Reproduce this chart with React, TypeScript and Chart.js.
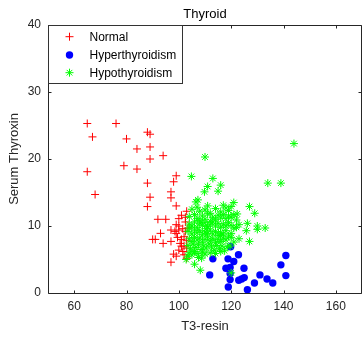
import React, { useEffect, useRef } from "react";
import { Chart, registerables } from "chart.js";

Chart.register(...registerables);

const chartTitle = "Thyroid";
const xLabel = "T3-resin";
const yLabel = "Serum Thyroxin";
const xTicks = [60, 80, 100, 120, 140, 160];
const yTicks = [0, 10, 20, 30, 40];
const seriesNames = ["Normal", "Hyperthyroidism", "Hypothyroidism"];

const normalPoints: number[][] = [
  [65, 25.3], [76, 25.3], [67, 23.3], [80, 23.0], [88, 24.0], [89, 23.7], [84, 21.5], [89, 21.8],
  [94, 20.5], [89, 20.0], [65, 18.1], [79, 19.0], [84, 18.5], [68, 14.7], [99, 17.5], [98, 16.6],
  [88, 16.4], [97, 15.1], [97, 14.2], [89, 14.3], [99, 13.0], [88, 12.9], [103, 12.2], [92, 11.0],
  [95, 11.0], [100, 11.1], [99, 10.2], [97, 9.4], [100, 9.4], [93, 8.9], [90, 8.0], [91, 8.0],
  [94, 7.4], [97, 7.7], [99, 8.9], [101, 8.0], [101, 7.0], [100, 6.4], [102.5, 9.2], [102, 7.0],
  [102, 5.7], [98, 5.8], [97, 4.6], [99, 5.5], [103, 6.7], [103, 5.2], [102.5, 10.6], [101, 11.6],
  [103.5, 9.7], [101.5, 9.6], [102, 8.4], [100.5, 7.4], [101.5, 6.2], [103, 7.8], [100, 10.0],
  [99.5, 8.3], [98.5, 9.2], [102.5, 11.3],
];

const hyperPoints: number[][] = [
  [113, 5.1], [111.8, 2.7], [118.8, 5.1], [122.8, 5.7], [121, 4.7], [118, 3.7], [119.6, 3.8],
  [119.6, 2.9], [124.9, 3.7], [119.6, 2.0], [118.9, 0.9], [122.9, 1.9], [125, 2.3], [126.2, 0.5],
  [128.9, 1.5], [131, 2.7], [133.7, 2.1], [135.9, 1.5], [139, 4.2], [140.9, 5.6], [140.9, 2.6],
  [119.8, 6.9], [124, 2.1],
];

const hypoPoints: number[][] = [
  [144, 22.3], [110, 20.3], [104.8, 17.4], [113, 17.1], [111, 15.9], [116, 16.1], [109.8, 15.1],
  [115, 15.2], [134, 16.4], [139, 16.4], [106.5, 13.6], [107.3, 13.9], [127, 12.9], [129, 11.9],
  [121, 13.5], [122.3, 11.8], [126.2, 10.4], [125.8, 9.3], [130, 10.0], [130, 9.5], [133, 9.7],
  [127, 7.7], [123, 8.1], [122, 9.8], [102.8, 5.0], [106, 4.3], [108.2, 3.4], [108.7, 5.2],
  [120, 3.0], [119.6, 7.0], [116, 8.6],
  [105, 12.5], [107, 12.8], [108, 12.2], [110, 12.4], [112, 11.9], [114, 12.6], [116, 12.1],
  [118, 12.7], [119, 12.3], [120, 12.9], [117, 13.1], [111, 13.0],
  [104, 11.4], [106, 11.7], [107, 11.1], [109, 11.5], [110, 11.0], [111, 11.8], [113, 11.3],
  [114, 11.0], [115, 11.6], [116, 11.2], [117, 11.7], [118, 11.1], [119, 11.5], [120, 11.3],
  [121, 11.7], [122, 10.9], [108, 10.8], [112, 10.7],
  [104, 10.3], [105, 10.0], [106, 10.6], [107, 9.8], [108, 10.4], [109, 10.1], [110, 10.5],
  [111, 9.9], [112, 10.2], [113, 10.6], [114, 10.0], [115, 10.4], [116, 9.8], [117, 10.3],
  [118, 10.0], [119, 10.5], [120, 10.1], [121, 9.7], [123, 10.2], [110.5, 9.6],
  [103.5, 9.2], [105, 8.8], [106, 9.4], [107, 9.0], [108, 9.3], [109, 8.7], [110, 9.1],
  [111, 8.9], [112, 9.4], [113, 8.8], [114, 9.2], [115, 8.6], [116, 9.0], [117, 8.8],
  [118, 9.3], [119, 8.5], [120, 8.9], [104, 9.7],
  [104, 8.1], [105, 7.7], [106, 8.3], [107, 7.9], [108, 8.2], [109, 7.6], [110, 8.0],
  [111, 8.4], [112, 7.8], [113, 8.1], [114, 7.5], [115, 8.0], [116, 7.7], [117, 8.2],
  [118, 7.9], [120, 8.3], [121, 7.6],
  [103.5, 7.1], [104.5, 6.6], [105.5, 7.3], [106.5, 6.8], [107.5, 7.2], [108.5, 6.5],
  [109.5, 7.0], [110.5, 6.7], [111.5, 7.3], [112.5, 6.9], [113.5, 6.4], [114.5, 7.1],
  [115.5, 6.6], [116.5, 7.0], [117.5, 6.3], [118.5, 6.9],
  [104, 6.0], [105, 5.7], [106, 6.2], [107, 5.9], [109, 6.1], [110, 5.8], [112, 6.0],
  [114, 5.9], [116, 6.2], [103.5, 5.5], [107.5, 5.3],
];

const RED = "#ff0000";
const BLUE = "#0000ff";
const GREEN = "#00ff00";
const AXIS = "#262626";
const FONT = "'Liberation Sans', Arial, Helvetica, sans-serif";

function toXY(list: number[][]) {
  return list.map(([x, y]) => ({ x, y }));
}

function drawMarker(ctx: CanvasRenderingContext2D, kind: string, x: number, y: number) {
  ctx.save();
  if (kind === "plus") {
    ctx.strokeStyle = RED;
    ctx.lineWidth = 1;
    ctx.beginPath();
    ctx.moveTo(x - 4, y); ctx.lineTo(x + 4, y);
    ctx.moveTo(x, y - 4); ctx.lineTo(x, y + 4);
    ctx.stroke();
  } else if (kind === "circle") {
    ctx.fillStyle = BLUE;
    ctx.beginPath();
    ctx.arc(x, y, 3.7, 0, Math.PI * 2);
    ctx.fill();
  } else {
    ctx.strokeStyle = GREEN;
    ctx.lineWidth = 1;
    ctx.beginPath();
    ctx.moveTo(x - 4, y); ctx.lineTo(x + 4, y);
    ctx.moveTo(x, y - 4); ctx.lineTo(x, y + 4);
    ctx.moveTo(x - 2.8, y - 2.8); ctx.lineTo(x + 2.8, y + 2.8);
    ctx.moveTo(x - 2.8, y + 2.8); ctx.lineTo(x + 2.8, y - 2.8);
    ctx.stroke();
  }
  ctx.restore();
}

const framePlugin = {
  id: "matlabFrame",
  afterDatasetsDraw(chart: any) {
    const { ctx, chartArea: a, scales } = chart;
    const L = Math.floor(a.left) + 0.5;
    const R = Math.ceil(a.right) - 0.5;
    const T = Math.floor(a.top) + 0.5;
    const B = Math.floor(a.bottom) + 0.5;
    ctx.save();
    ctx.strokeStyle = AXIS;
    ctx.lineWidth = 1;
    ctx.beginPath();
    ctx.moveTo(L, T); ctx.lineTo(R, T); ctx.lineTo(R, B); ctx.lineTo(L, B); ctx.closePath();
    const tl = 3;
    xTicks.forEach((v) => {
      const px = Math.round(scales.x.getPixelForValue(v)) + 0.5;
      ctx.moveTo(px, B); ctx.lineTo(px, B - tl);
      ctx.moveTo(px, T); ctx.lineTo(px, T + tl);
    });
    yTicks.forEach((v) => {
      const py = Math.round(scales.y.getPixelForValue(v)) + 0.5;
      ctx.moveTo(L, py); ctx.lineTo(L + tl, py);
      ctx.moveTo(R, py); ctx.lineTo(R - tl, py);
    });
    ctx.stroke();

    // legend box
    const lx = L, ly = T, lw = 134, lh = 58;
    ctx.fillStyle = "#ffffff";
    ctx.fillRect(lx, ly, lw, lh);
    ctx.strokeStyle = "#333333";
    ctx.strokeRect(lx, ly, lw, lh);
    const kinds = ["plus", "circle", "star"];
    const rowsY = [36.7, 55, 72.7];
    ctx.font = "12px " + FONT;
    ctx.textBaseline = "middle";
    ctx.textAlign = "left";
    seriesNames.forEach((name, i) => {
      drawMarker(ctx, kinds[i], 69.5, rowsY[i]);
      ctx.fillStyle = "#000000";
      ctx.fillText(name, 89.5, rowsY[i] + 0.5);
    });
    ctx.restore();
  },
};

export default function App() {
  const canvasRef = useRef<HTMLCanvasElement | null>(null);

  useEffect(() => {
    if (!canvasRef.current) return;
    Chart.defaults.font.family = FONT;
    const chart = new Chart(canvasRef.current, {
      type: "scatter",
      data: {
        datasets: [
          {
            label: seriesNames[0],
            data: toXY(normalPoints),
            pointStyle: "cross",
            pointRadius: 4,
            pointBorderWidth: 1,
            borderColor: RED,
            backgroundColor: RED,
            order: 3,
            clip: false,
          },
          {
            label: seriesNames[1],
            data: toXY(hyperPoints),
            pointStyle: "circle",
            pointRadius: 3.7,
            pointBorderWidth: 0,
            borderColor: BLUE,
            backgroundColor: BLUE,
            order: 2,
            clip: false,
          },
          {
            label: seriesNames[2],
            data: toXY(hypoPoints),
            pointStyle: "star",
            pointRadius: 4,
            pointBorderWidth: 1,
            borderColor: GREEN,
            backgroundColor: GREEN,
            order: 1,
            clip: false,
          },
        ],
      },
      options: {
        animation: false,
        responsive: true,
        maintainAspectRatio: false,
        layout: { autoPadding: false, padding: { left: 0, right: 0, top: 0, bottom: 0 } },
        plugins: {
          legend: { display: false },
          tooltip: { enabled: false },
          title: {
            display: true,
            text: chartTitle,
            fullSize: false,
            color: "#000000",
            font: { size: 13, weight: "normal", family: FONT },
            padding: { top: 7, bottom: 2.4 },
          },
        },
        scales: {
          x: {
            type: "linear",
            min: 50,
            max: 170,
            afterBuildTicks: (axis: any) => {
              axis.ticks = xTicks.map((v) => ({ value: v }));
            },
            afterFit: (s: any) => {
              s.height = 47;
              s.paddingLeft = 0;
              s.paddingRight = 0;
            },
            grid: { display: false, drawTicks: false },
            border: { display: false },
            ticks: { color: AXIS, font: { size: 12, family: FONT }, padding: 6, maxRotation: 0 },
            title: {
              display: true,
              text: xLabel,
              color: AXIS,
              font: { size: 13, family: FONT },
              padding: { top: 6, bottom: 6 },
            },
          },
          y: {
            type: "linear",
            min: 0,
            max: 40,
            afterBuildTicks: (axis: any) => {
              axis.ticks = yTicks.map((v) => ({ value: v }));
            },
            afterFit: (s: any) => {
              s.width = 48;
              s.paddingTop = 0;
              s.paddingBottom = 0;
            },
            grid: { display: false, drawTicks: false },
            border: { display: false },
            ticks: { color: AXIS, font: { size: 12, family: FONT }, padding: 7 },
            title: {
              display: true,
              text: yLabel,
              color: AXIS,
              font: { size: 13, family: FONT },
              padding: { top: 7, bottom: 0 },
            },
          },
        },
      },
      plugins: [framePlugin],
    } as any);
    return () => chart.destroy();
  }, []);

  return (
    <div style={{ position: "fixed", left: 0, top: 0, width: 362, height: 340, background: "#fff" }}>
      <canvas ref={canvasRef} />
    </div>
  );
}
